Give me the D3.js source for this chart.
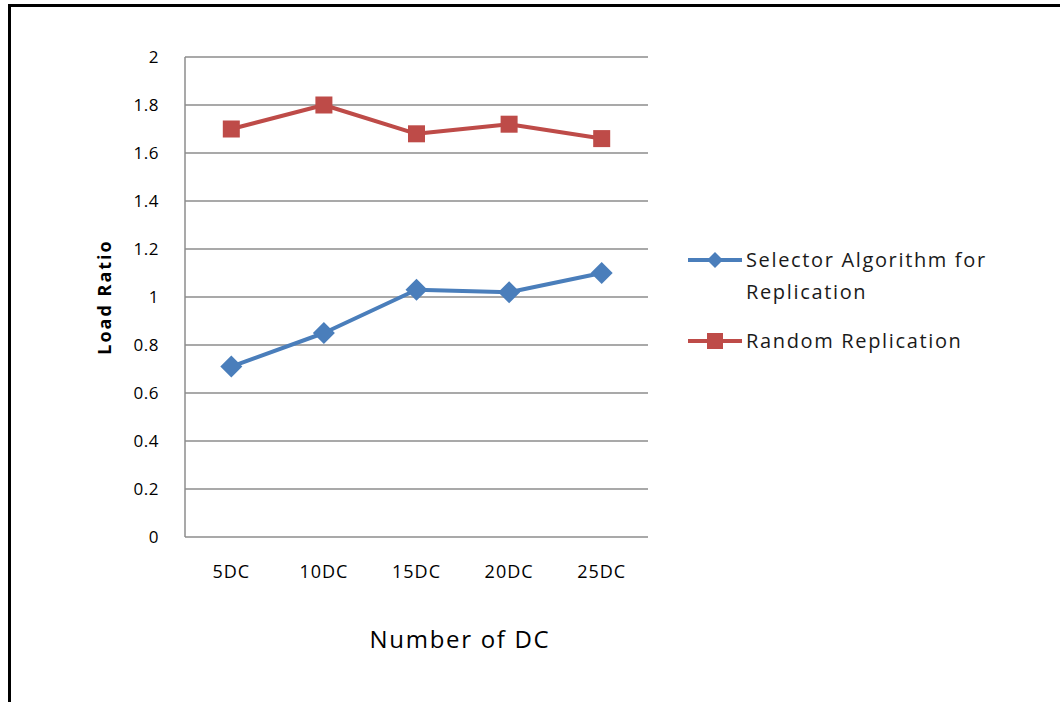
<!DOCTYPE html>
<html>
<head>
<meta charset="utf-8">
<script src="https://cdn.jsdelivr.net/npm/d3@7"></script>
<style>
  html, body { margin: 0; padding: 0; background: #fff; }
  svg { display: block; }
  text { font-family: "Open Sans", Lato, sans-serif; }
</style>
</head>
<body>
<svg id="chart" width="1060" height="702"></svg>
<script>
const categories = ["5DC", "10DC", "15DC", "20DC", "25DC"];
const selectorValues = [0.71, 0.85, 1.03, 1.02, 1.10];
const randomValues = [1.70, 1.80, 1.68, 1.72, 1.66];
const yTicks = [0, 0.2, 0.4, 0.6, 0.8, 1, 1.2, 1.4, 1.6, 1.8, 2];
const seriesNames = ["Selector Algorithm for Replication", "Random Replication"];

const svg = d3.select("#chart");
const W = 1060, H = 702;
const plot = { left: 185, right: 648, top: 57, bottom: 537 };

// frame
svg.append("rect").attr("x", 0).attr("y", 0).attr("width", W).attr("height", H).attr("fill", "#fff");
svg.append("path")
  .attr("d", `M9.5,${H} L9.5,5.5 L${W},5.5`)
  .attr("fill", "none").attr("stroke", "#000").attr("stroke-width", 3);

const x = d3.scaleBand().domain(categories).range([plot.left, plot.right]).paddingInner(0).paddingOuter(0);
const y = d3.scaleLinear().domain([0, 2]).range([plot.bottom, plot.top]);

// gridlines
svg.append("g").selectAll("line").data(yTicks.filter(d => d > 0)).join("line")
  .attr("x1", plot.left).attr("x2", plot.right)
  .attr("y1", d => y(d)).attr("y2", d => y(d))
  .attr("stroke", "#8c8c8c").attr("stroke-width", 1.5);

// axes lines
svg.append("line").attr("x1", plot.left).attr("x2", plot.left).attr("y1", plot.top).attr("y2", plot.bottom)
  .attr("stroke", "#8c8c8c").attr("stroke-width", 1.5);
svg.append("line").attr("x1", plot.left).attr("x2", plot.right).attr("y1", plot.bottom).attr("y2", plot.bottom)
  .attr("stroke", "#8c8c8c").attr("stroke-width", 1.5);

// y tick labels
const yAxis = d3.axisLeft(y).tickValues(yTicks).tickSize(0).tickPadding(0).tickFormat(d => d3.format("~g")(d));
const gy = svg.append("g").attr("transform", `translate(${plot.left - 26},0)`).call(yAxis);
gy.select(".domain").remove();
gy.selectAll("text").attr("font-size", 17).attr("fill", "#000").attr("font-family", "'Open Sans', sans-serif")
  .attr("letter-spacing", 0.5);

// x tick labels
const xAxis = d3.axisBottom(x).tickSize(0).tickPadding(0);
const gx = svg.append("g").attr("transform", `translate(0,${plot.bottom + 28})`).call(xAxis);
gx.select(".domain").remove();
gx.selectAll("text").attr("font-size", 18).attr("fill", "#000").attr("font-family", "'Open Sans', sans-serif")
  .attr("letter-spacing", 1);

// axis titles
svg.append("text").attr("x", 460).attr("y", 648)
  .attr("text-anchor", "middle").attr("font-size", 24).attr("letter-spacing", 1.7).attr("fill", "#000").text("Number of DC");
svg.append("text").attr("transform", `translate(111,297) rotate(-90)`)
  .attr("text-anchor", "middle").attr("font-size", 18).attr("letter-spacing", 2).attr("font-weight", "bold").attr("fill", "#000").text("Load Ratio");

const blue = "#4a7ebb", red = "#be4b48";
const line = d3.line().x((d, i) => x(categories[i]) + x.bandwidth() / 2).y(d => y(d));

// random series
svg.append("path").datum(randomValues).attr("d", line)
  .attr("fill", "none").attr("stroke", red).attr("stroke-width", 4).attr("stroke-linejoin", "round");
svg.append("g").selectAll("rect").data(randomValues).join("rect")
  .attr("x", (d, i) => x(categories[i]) + x.bandwidth() / 2 - 8.5)
  .attr("y", d => y(d) - 8.5).attr("width", 17).attr("height", 17).attr("fill", red);

// selector series
svg.append("path").datum(selectorValues).attr("d", line)
  .attr("fill", "none").attr("stroke", blue).attr("stroke-width", 4).attr("stroke-linejoin", "round");
const diamond = "M0,-11 L11,0 L0,11 L-11,0 Z";
svg.append("g").selectAll("path").data(selectorValues).join("path")
  .attr("transform", (d, i) => `translate(${x(categories[i]) + x.bandwidth() / 2},${y(d)})`)
  .attr("d", diamond).attr("fill", blue);

// legend
const lg = svg.append("g").attr("font-size", 20).attr("letter-spacing", 1.65).attr("fill", "#1a1a1a");
lg.append("line").attr("x1", 688).attr("x2", 742).attr("y1", 260).attr("y2", 260).attr("stroke", blue).attr("stroke-width", 4);
lg.append("path").attr("transform", "translate(715,260)").attr("d", "M0,-8 L8,0 L0,8 L-8,0 Z").attr("fill", blue);
lg.append("text").attr("x", 746).attr("y", 267).text("Selector Algorithm for");
lg.append("text").attr("x", 746).attr("y", 299).text("Replication");
lg.append("line").attr("x1", 688).attr("x2", 742).attr("y1", 341).attr("y2", 341).attr("stroke", red).attr("stroke-width", 4);
lg.append("rect").attr("x", 707).attr("y", 333).attr("width", 16).attr("height", 16).attr("fill", red);
lg.append("text").attr("x", 746).attr("y", 348).text(seriesNames[1]);
</script>
</body>
</html>
